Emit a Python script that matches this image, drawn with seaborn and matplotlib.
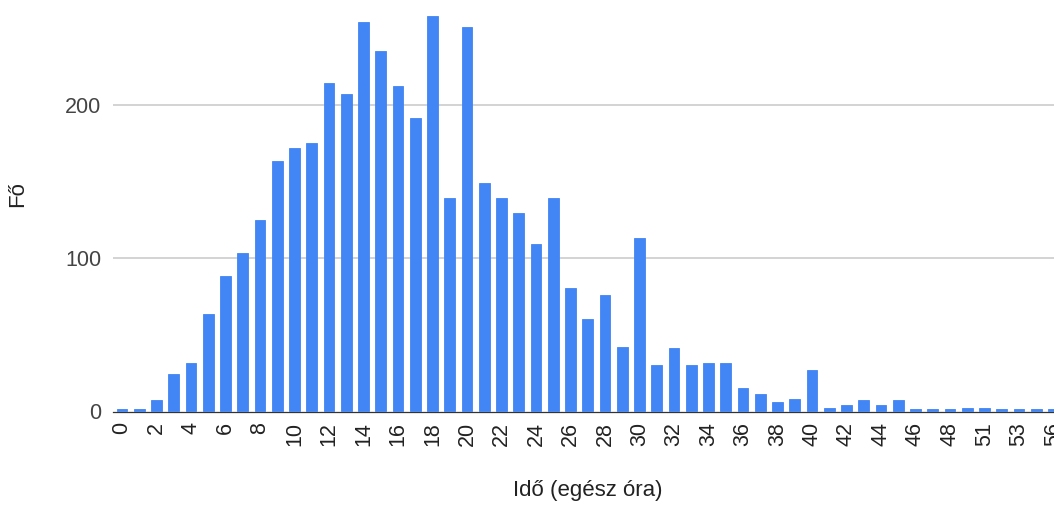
import numpy as np
import pandas as pd
import seaborn as sns
import matplotlib.pyplot as plt

# hours (whole) and number of people
hours = list(range(0, 49)) + [50, 51, 52, 53, 55, 56]
people = [1, 1, 7, 24, 31, 63, 88, 103, 125, 163,
          172, 175, 214, 207, 254, 235, 212, 191, 258, 139,
          251, 149, 139, 129, 109, 139, 80, 60, 76, 42,
          113, 30, 41, 30, 31, 31, 15, 11, 6, 8,
          27, 2, 4, 7, 4, 7, 1, 1, 1, 2,
          2, 1, 1, 1, 1]
y_ticks = [0, 100, 200]

df = pd.DataFrame({"ora": [str(h) for h in hours], "fo": people})

sns.set_style("white")
plt.rcParams["font.family"] = ["Liberation Sans", "DejaVu Sans"]

fig = plt.figure(figsize=(10.54, 5.05), dpi=100)
ax = fig.add_axes([0.1072, 0.184, 0.8928, 0.816])

sns.barplot(data=df, x="ora", y="fo", order=df["ora"].tolist(),
            color="#4285F4", saturation=1, width=0.62, ax=ax, zorder=3,
            edgecolor="#4285F4", linewidth=0.6)

ax.set_xlim(-0.52, 54.03)
ax.set_ylim(-0.8, 268.4)

# every second category label
idx = np.arange(0, len(hours), 2)
ax.set_xticks(idx)
ax.set_xticklabels([str(hours[i]) for i in idx], rotation=90, fontsize=15.5, color="#222222")
ax.set_yticks(y_ticks)
ax.set_yticklabels([str(t) for t in y_ticks], fontsize=15.5, color="#444444")
ax.tick_params(axis="both", length=0)
ax.tick_params(axis="x", pad=7)
ax.tick_params(axis="y", pad=8.5)

for t in y_ticks[1:]:
    ax.axhline(t, color="#cccccc", lw=1.2, zorder=1)

# dark baseline along the bottom of the plot area
ax.spines["bottom"].set_visible(True)
ax.spines["bottom"].set_color("#333333")
ax.spines["bottom"].set_linewidth(0.9)
ax.spines["bottom"].set_zorder(2)
for s in ["top", "right", "left"]:
    ax.spines[s].set_visible(False)

ax.set_xlabel("Idő (egész óra)", fontsize=16, color="#222222")
ax.xaxis.set_label_coords(0.505, -0.165)
ax.set_ylabel("Fő", fontsize=16, color="#222222")
ax.yaxis.set_label_coords(-0.09, 0.529)

fig.savefig("out.png", dpi=100)
